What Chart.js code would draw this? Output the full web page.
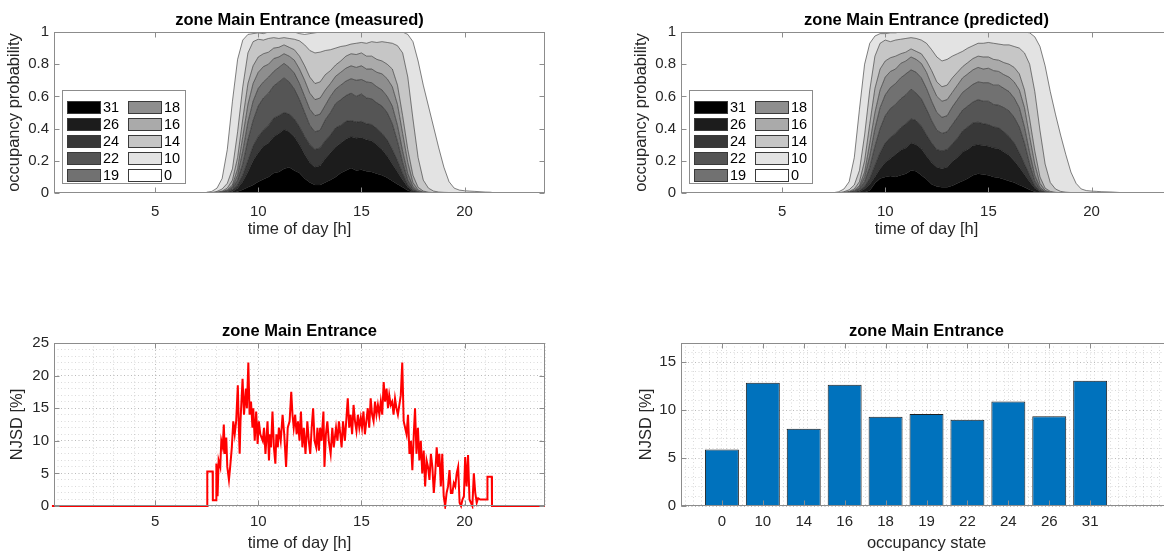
<!DOCTYPE html>
<html>
<head>
<meta charset="utf-8">
<title>zone Main Entrance</title>
<script src="https://cdn.jsdelivr.net/npm/chart.js@4.4.1/dist/chart.umd.min.js"></script>
<style>
  html, body { margin: 0; padding: 0; background: #fff; }
  body { width: 1164px; height: 554px; overflow: hidden; position: relative; }
  canvas { position: absolute; }
</style>
</head>
<body>
<canvas id="measuredChart" width="560" height="245" style="left:0px;top:0px"></canvas>
<canvas id="predictedChart" width="560" height="245" style="left:627px;top:0px"></canvas>
<canvas id="njsdTimeChart" width="560" height="243" style="left:0px;top:311px"></canvas>
<canvas id="njsdStateChart" width="560" height="243" style="left:627px;top:311px"></canvas>
<script>
// Occupancy state probabilities, zone Main Entrance

// time of day [h] for the stacked probability plots
const hours = [
  7.5, 7.75, 8, 8.25, 8.5, 8.75, 9, 9.25, 9.5, 9.75,
  10, 10.25, 10.5, 10.75, 11, 11.25, 11.5, 11.75, 12, 12.25,
  12.5, 12.75, 13, 13.25, 13.5, 13.75, 14, 14.25, 14.5, 14.75,
  15, 15.25, 15.5, 15.75, 16, 16.25, 16.5, 16.75, 17, 17.25,
  17.5, 17.75, 18, 18.25, 18.5, 18.75, 19, 19.25, 19.5, 19.75,
  20, 20.25, 20.5, 20.75, 21, 21.25, 21.5
];
const hourTicks = [5, 10, 15, 20];
const probTicks = [0, 0.2, 0.4, 0.6, 0.8, 1];

// legend / stacking order, bottom band first
const states = ['31', '26', '24', '22', '19', '18', '16', '14', '10', '0'];

// measured: cumulative probability (top edge of each band)
const meas31 = [
  0, 0, 0, 0, 0, 0, .01, .02, .035, .05,
  .07, .085, .1, .125, .13, .15, .16, .14, .125, .09,
  .065, .05, .05, .065, .08, .1, .125, .14, .155, .14,
  .145, .135, .13, .12, .11, .095, .075, .055, .035, .015,
  .005, 0, 0, 0, 0, 0, 0, 0, 0, 0,
  0, 0, 0, 0, 0, 0, 0
];
const meas26 = [
  0, 0, 0, 0, .002, .01, .03, .07, .13, .2,
  .25, .29, .31, .35, .37, .395, .38, .35, .3, .24,
  .19, .16, .17, .215, .25, .285, .31, .335, .35, .34,
  .345, .33, .325, .3, .27, .23, .18, .13, .08, .035,
  .01, .002, 0, 0, 0, 0, 0, 0, 0, 0,
  0, 0, 0, 0, 0, 0, 0
];
const meas24 = [
  0, 0, 0, .001, .005, .02, .05, .11, .2, .29,
  .35, .39, .42, .465, .48, .5, .49, .46, .41, .35,
  .3, .27, .28, .325, .36, .405, .42, .445, .45, .44,
  .445, .43, .425, .4, .37, .33, .27, .2, .12, .05,
  .015, .004, 0, 0, 0, 0, 0, 0, 0, 0,
  0, 0, 0, 0, 0, 0, 0
];
const meas22 = [
  0, 0, .001, .003, .01, .03, .08, .18, .33, .45,
  .54, .59, .62, .665, .69, .715, .69, .645, .58, .5,
  .42, .38, .39, .455, .5, .555, .58, .605, .62, .6,
  .615, .59, .585, .56, .54, .5, .43, .32, .19, .08,
  .025, .006, 0, 0, 0, 0, 0, 0, 0, 0,
  0, 0, 0, 0, 0, 0, 0
];
const meas19 = [
  0, 0, .002, .005, .015, .04, .11, .26, .44, .57,
  .65, .69, .72, .755, .78, .805, .78, .745, .68, .6,
  .52, .48, .49, .545, .6, .645, .67, .695, .71, .7,
  .705, .69, .685, .66, .64, .6, .54, .42, .26, .12,
  .04, .01, .003, 0, 0, 0, 0, 0, 0, 0,
  0, 0, 0, 0, 0, 0, 0
];
const meas18 = [
  0, 0, .003, .008, .02, .05, .15, .35, .55, .68,
  .75, .785, .8, .835, .845, .865, .85, .825, .77, .7,
  .62, .58, .59, .64, .68, .725, .75, .775, .79, .78,
  .79, .77, .77, .75, .74, .71, .66, .55, .37, .19,
  .065, .018, .006, .002, 0, 0, 0, 0, 0, 0,
  0, 0, 0, 0, 0, 0, 0
];
const meas16 = [
  0, .001, .005, .012, .03, .08, .22, .46, .68, .79,
  .845, .865, .875, .9, .905, .92, .905, .89, .85, .79,
  .72, .68, .69, .735, .76, .795, .82, .85, .865, .86,
  .87, .85, .85, .83, .82, .8, .77, .67, .48, .27,
  .11, .035, .012, .005, .002, 0, 0, 0, 0, 0,
  0, 0, 0, 0, 0, 0, 0
];
const meas14 = [
  0, .003, .01, .025, .06, .15, .38, .66, .87, .94,
  .955, .95, .96, .965, .96, .965, .96, .955, .945, .92,
  .885, .87, .875, .885, .89, .9, .91, .915, .925, .93,
  .935, .93, .94, .935, .94, .935, .93, .915, .87, .72,
  .46, .22, .08, .03, .012, .006, .004, .003, .002, .001,
  .001, 0, 0, 0, 0, 0, 0
];
const meas10 = [
  .005, .01, .03, .09, .27, .57, .83, .95, .985, .99,
  .995, .99, 1, 1, 1, 1, 1, 1, .99, .985,
  .99, .995, 1, 1, 1, 1, 1, 1, 1, 1,
  1, 1, 1, 1, 1, 1, 1, 1, 1, .985,
  .94, .82, .67, .54, .41, .28, .16, .07, .03, .018,
  .014, .012, .01, .008, .006, .005, 0
];

// predicted: cumulative probability (top edge of each band)
const pred31 = [
  0, 0, 0, 0, 0, 0, .005, .015, .06, .09,
  .1, .105, .1, .11, .12, .14, .135, .11, .085, .055,
  .04, .035, .035, .045, .06, .075, .09, .11, .12, .115,
  .11, .1, .095, .085, .075, .065, .05, .035, .02, .008,
  .002, 0, 0, 0, 0, 0, 0, 0, 0, 0,
  0, 0, 0, 0, 0, 0, 0
];
const pred26 = [
  0, 0, 0, 0, .002, .008, .025, .055, .1, .15,
  .19, .215, .24, .265, .28, .31, .3, .275, .23, .19,
  .16, .15, .16, .195, .22, .255, .27, .295, .3, .295,
  .29, .28, .275, .255, .235, .2, .16, .115, .07, .03,
  .009, .002, 0, 0, 0, 0, 0, 0, 0, 0,
  0, 0, 0, 0, 0, 0, 0
];
const pred24 = [
  0, 0, 0, .001, .004, .015, .04, .09, .17, .25,
  .31, .345, .37, .405, .43, .46, .45, .415, .36, .31,
  .27, .26, .27, .305, .34, .385, .41, .435, .44, .43,
  .425, .41, .405, .38, .35, .31, .25, .18, .11, .045,
  .013, .003, 0, 0, 0, 0, 0, 0, 0, 0,
  0, 0, 0, 0, 0, 0, 0
];
const pred22 = [
  0, 0, .001, .003, .008, .025, .07, .16, .29, .4,
  .48, .525, .55, .585, .61, .645, .62, .585, .52, .45,
  .39, .37, .38, .425, .47, .515, .54, .565, .58, .57,
  .57, .55, .545, .53, .51, .47, .41, .31, .18, .075,
  .022, .005, 0, 0, 0, 0, 0, 0, 0, 0,
  0, 0, 0, 0, 0, 0, 0
];
const pred19 = [
  0, 0, .001, .004, .012, .035, .1, .23, .4, .53,
  .61, .655, .68, .715, .74, .765, .75, .715, .65, .57,
  .5, .47, .48, .535, .58, .625, .65, .675, .69, .685,
  .685, .67, .67, .65, .63, .59, .53, .41, .25, .11,
  .035, .009, .002, 0, 0, 0, 0, 0, 0, 0,
  0, 0, 0, 0, 0, 0, 0
];
const pred18 = [
  0, 0, .002, .006, .018, .045, .13, .31, .5, .64,
  .72, .755, .77, .805, .82, .845, .83, .805, .75, .67,
  .6, .57, .58, .625, .67, .715, .74, .765, .78, .77,
  .775, .76, .755, .735, .72, .69, .64, .53, .35, .18,
  .06, .016, .005, .002, 0, 0, 0, 0, 0, 0,
  0, 0, 0, 0, 0, 0, 0
];
const pred16 = [
  0, .001, .004, .01, .025, .07, .2, .43, .65, .77,
  .82, .84, .85, .865, .875, .895, .88, .865, .82, .76,
  .69, .66, .67, .715, .75, .785, .81, .835, .85, .845,
  .845, .83, .825, .81, .8, .78, .74, .64, .46, .26,
  .1, .03, .01, .004, .001, 0, 0, 0, 0, 0,
  0, 0, 0, 0, 0, 0, 0
];
const pred14 = [
  0, .002, .008, .02, .05, .14, .36, .64, .85, .93,
  .95, .94, .95, .955, .96, .965, .96, .95, .93, .89,
  .845, .82, .83, .85, .865, .88, .9, .915, .93, .93,
  .935, .93, .925, .92, .92, .91, .9, .87, .8, .63,
  .39, .18, .065, .025, .01, .005, .003, .002, .001, 0,
  0, 0, 0, 0, 0, 0, 0
];
const pred10 = [
  .002, .008, .025, .07, .22, .52, .8, .93, .975, .99,
  .99, .995, .995, 1, 1, 1, 1, 1, 1, 1,
  1, 1, 1, 1, 1, 1, 1, 1, 1, 1,
  1, 1, 1, 1, 1, 1, 1, 1, .995, .97,
  .91, .79, .63, .49, .36, .24, .13, .06, .025, .015,
  .012, .01, .008, .007, .006, .004, .002
];

// NJSD over the day [%]
const njsdHours = [
  0, 7.53, 7.53, 7.79, 7.8, 7.96, 7.97, 8.03, 8.08, 8.16,
  8.21, 8.28, 8.33, 8.38, 8.45, 8.5, 8.58, 8.64, 8.72, 8.79,
  8.86, 8.93, 9.01, 9.06, 9.1, 9.14, 9.24, 9.31, 9.4, 9.45,
  9.52, 9.58, 9.65, 9.72, 9.76, 9.83, 9.9, 9.97, 10.03, 10.1,
  10.22, 10.28, 10.35, 10.4, 10.45, 10.52, 10.57, 10.62, 10.69, 10.76,
  10.83, 10.88, 10.95, 11.0, 11.09, 11.18, 11.26, 11.35, 11.43, 11.52,
  11.6, 11.66, 11.72, 11.79, 11.86, 11.93, 12.0, 12.07, 12.14, 12.21,
  12.29, 12.38, 12.45, 12.52, 12.59, 12.66, 12.73, 12.81, 12.87, 12.94,
  13.0, 13.07, 13.16, 13.21, 13.28, 13.35, 13.42, 13.51, 13.59, 13.66,
  13.77, 13.84, 13.91, 13.98, 14.04, 14.11, 14.2, 14.34, 14.41, 14.48,
  14.55, 14.62, 14.69, 14.76, 14.83, 14.9, 14.97, 15.03, 15.1, 15.17,
  15.24, 15.31, 15.38, 15.45, 15.52, 15.59, 15.66, 15.73, 15.8, 15.87,
  15.94, 16.01, 16.08, 16.15, 16.22, 16.29, 16.35, 16.42, 16.49, 16.56,
  16.63, 16.7, 16.77, 16.84, 16.91, 16.98, 17.05, 17.12, 17.19, 17.26,
  17.33, 17.4, 17.47, 17.54, 17.6, 17.67, 17.74, 17.81, 17.88, 17.95,
  18.02, 18.09, 18.16, 18.23, 18.3, 18.37, 18.44, 18.51, 18.58, 18.65,
  18.72, 18.78, 18.85, 18.92, 18.99, 19.06, 19.13, 19.2, 19.27, 19.34,
  19.41, 19.48, 19.55, 19.62, 19.69, 19.76, 19.83, 19.9, 19.97, 20.03,
  20.1, 20.17, 20.24, 20.31, 20.38, 20.45, 20.52, 20.59, 20.66, 20.76,
  21.1, 21.11, 21.32, 21.33, 23.9
];
const njsdValues = [
  0, 0, 5.3, 5.3, 0.9, 0.9, 6.5, 1.5, 7, 6,
  10, 9, 12.5, 8, 10.5, 6, 4, 6, 9, 13,
  11, 13, 18.5, 12, 8, 13, 19.5, 14, 18, 15,
  22, 14, 16, 12, 15, 10, 14.5, 9.5, 13, 11,
  10, 12, 8, 10.5, 13, 7, 11, 9, 14.5, 9,
  6.5, 11, 9, 12, 10, 14, 11, 6, 12, 13,
  17.5, 14, 12, 14, 11, 13, 10, 14.5, 9, 12,
  8, 13, 10, 8, 12, 15, 10, 9, 12, 8.5,
  12, 10, 14.5, 6, 11, 13, 10, 8, 12, 9,
  12, 10, 13, 11, 9, 13, 10, 16.5, 12, 14,
  11, 15.5, 13, 11.5, 14, 12, 13.5, 12, 14.5, 11,
  13, 15, 12, 16.5, 14, 13, 16, 14, 15.5, 14,
  16, 14, 19, 16, 18, 15, 17, 15.5, 16, 14,
  16.5, 15, 14, 15.5, 17, 22, 13, 12, 11, 14,
  8, 10, 5.5, 11, 15, 8, 12, 7, 10, 5,
  8.5, 3, 7, 6, 4, 8, 6, 2, 5, 9,
  6, 8, 3, 8, 1.5, 0, 2, 3, 5.5, 2,
  2, 3.5, 3, 5, 6, 0.5, 0, 1, 1.5, 7.5,
  3, 7.8, 1, 0.5, 0, 5, 2, 0.5, 1.2, 1,
  1, 4.5, 4.5, 0, 0
];
const njsdTicks = [0, 5, 10, 15, 20, 25];

// NJSD per occupancy state [%]
const occupancyStates = ['0', '10', '14', '16', '18', '19', '22', '24', '26', '31'];
const njsdPerState = [5.9, 12.85, 8.05, 12.65, 9.3, 9.6, 9.0, 10.9, 9.35, 13.05];
const stateNjsdTicks = [0, 5, 10, 15];

// styling
const FONT = '"Liberation Sans", Arial, Helvetica, sans-serif';
const TEXT = '#262626';
const BOX = '#8c8c8c';
const GRID = 'rgba(38,38,38,0.17)';
const bandGrays = ['#000000', '#1c1c1c', '#383838', '#555555', '#717171',
                   '#8e8e8e', '#aaaaaa', '#c6c6c6', '#e3e3e3', '#ffffff'];

Chart.defaults.font.family = FONT;
Chart.defaults.font.size = 15;
Chart.defaults.color = TEXT;
Chart.defaults.animation = false;
Chart.defaults.events = [];
Chart.defaults.plugins.legend.display = false;
Chart.defaults.plugins.tooltip.enabled = false;

// box, inward ticks, title and (optional) legend, MATLAB style
const matlabAxes = {
  id: 'matlabAxes',
  afterDraw(chart, args, opts) {
    const { ctx, chartArea: a, scales } = chart;
    const L = Math.round(a.left) + 0.5, R = Math.round(a.right) - 0.5;
    const T = Math.round(a.top) + 0.5, B = Math.round(a.bottom) - 0.5;
    ctx.save();
    ctx.strokeStyle = BOX;
    ctx.lineWidth = 1;
    ctx.beginPath();
    scales.x.ticks.forEach(t => {
      const px = Math.round(scales.x.getPixelForValue(t.value)) + 0.5;
      ctx.moveTo(px, B); ctx.lineTo(px, B - 5);
      ctx.moveTo(px, T); ctx.lineTo(px, T + 5);
    });
    scales.y.ticks.forEach(t => {
      const py = Math.round(scales.y.getPixelForValue(t.value)) + 0.5;
      ctx.moveTo(L, py); ctx.lineTo(L + 5, py);
      ctx.moveTo(R, py); ctx.lineTo(R - 5, py);
    });
    ctx.stroke();
    ctx.strokeRect(L, T, R - L, B - T);

    ctx.fillStyle = '#000';
    ctx.font = 'bold 16.5px ' + FONT;
    ctx.textAlign = 'center';
    ctx.textBaseline = 'middle';
    ctx.fillText(opts.title, (a.left + a.right) / 2, a.top - 12);

    if (opts.legend) {
      const bx = Math.round(a.left) + 8, by = Math.round(a.top) + 58, bw = 123, bh = 93;
      ctx.fillStyle = '#fff';
      ctx.fillRect(bx, by, bw, bh);
      ctx.strokeStyle = BOX;
      ctx.strokeRect(bx + 0.5, by + 0.5, bw, bh);
      ctx.font = '14.5px ' + FONT;
      ctx.textAlign = 'left';
      states.forEach((label, k) => {
        const col = Math.floor(k / 5), row = k % 5;
        const sx = bx + 5 + col * 61, sy = by + 11 + row * 17;
        ctx.fillStyle = bandGrays[k];
        ctx.fillRect(sx, sy, 33, 12);
        ctx.strokeStyle = '#3a3a3a';
        ctx.strokeRect(sx + 0.5, sy + 0.5, 33, 12);
        ctx.fillStyle = '#000';
        ctx.fillText(label, sx + 36, sy + 7);
      });
    }
    ctx.restore();
  }
};

function bandDatasets(layers) {
  return layers.map((vals, i) => ({
    label: states[i],
    data: hours.map((h, k) => ({ x: h, y: vals[k] })),
    backgroundColor: bandGrays[i],
    borderColor: 'rgba(20,20,20,0.75)',
    borderWidth: 0.7,
    pointRadius: 0,
    tension: 0,
    fill: i === 0 ? 'origin' : '-1',
    xAxisID: 'x',
    yAxisID: 'y'
  }));
}

function tickFont() { return { family: FONT, size: 15 }; }
function labelFont() { return { family: FONT, size: 16.5 }; }
const plainNumber = v => String(Math.round(v * 100) / 100);

function probChart(id, title, layers) {
  new Chart(document.getElementById(id), {
    type: 'line',
    data: { datasets: bandDatasets(layers) },
    options: {
      responsive: false,
      devicePixelRatio: 1,
      layout: { padding: { top: 32, right: 15, left: 0, bottom: 0 } },
      scales: {
        x: {
          type: 'linear', min: 0.1, max: 23.9,
          afterBuildTicks: s => { s.ticks = hourTicks.map(v => ({ value: v })); },
          afterFit: s => { s.height = 52; },
          grid: { display: false, drawTicks: false },
          border: { display: false },
          ticks: { padding: 10, color: TEXT, font: tickFont(), maxRotation: 0, callback: plainNumber },
          title: { display: true, text: 'time of day [h]', color: TEXT, font: labelFont(), padding: { top: 0, bottom: 6 } }
        },
        y: {
          type: 'linear', min: 0, max: 1,
          afterBuildTicks: s => { s.ticks = probTicks.map(v => ({ value: v })); },
          afterFit: s => { s.width = 54; },
          grid: { display: false, drawTicks: false },
          border: { display: false },
          ticks: { padding: 5, color: TEXT, font: tickFont(), callback: plainNumber },
          title: { display: true, text: 'occupancy probability', color: TEXT, font: labelFont(), padding: { top: 5, bottom: 0 } }
        }
      },
      plugins: { matlabAxes: { title: title, legend: true } }
    },
    plugins: [matlabAxes]
  });
}

probChart('measuredChart', 'zone Main Entrance (measured)',
  [meas31, meas26, meas24, meas22, meas19, meas18, meas16, meas14, meas10]);
probChart('predictedChart', 'zone Main Entrance (predicted)',
  [pred31, pred26, pred24, pred22, pred19, pred18, pred16, pred14, pred10]);

function dottedGrid() {
  return { color: GRID, lineWidth: 1, drawTicks: false };
}
const dottedBorder = { display: false, dash: [1, 2.5] };

// NJSD over time
new Chart(document.getElementById('njsdTimeChart'), {
  type: 'line',
  data: {
    datasets: [{
      label: 'NJSD',
      data: njsdHours.map((h, i) => ({ x: h, y: njsdValues[i] })),
      borderColor: '#ff0000',
      borderWidth: 2,
      pointRadius: 0,
      tension: 0,
      fill: false,
      clip: 3,
      xAxisID: 'x',
      yAxisID: 'y'
    }]
  },
  options: {
    responsive: false,
    devicePixelRatio: 1,
    layout: { padding: { top: 32, right: 15, left: 0, bottom: 0 } },
    scales: {
      x: {
        type: 'linear', min: 0.1, max: 23.9,
        afterBuildTicks: s => { s.ticks = hourTicks.map(v => ({ value: v })); },
        afterFit: s => { s.height = 48; },
        grid: dottedGrid(),
        border: dottedBorder,
        ticks: { padding: 7, color: TEXT, font: tickFont(), maxRotation: 0, callback: plainNumber },
        title: { display: true, text: 'time of day [h]', color: TEXT, font: labelFont(), padding: { top: 0, bottom: 1 } }
      },
      xMinor: {
        type: 'linear', position: 'bottom', min: 0.1, max: 23.9,
        afterFit: s => { s.height = 0; },
        grid: dottedGrid(),
        border: dottedBorder,
        ticks: { display: false, stepSize: 1 }
      },
      y: {
        type: 'linear', min: 0, max: 25,
        afterBuildTicks: s => { s.ticks = njsdTicks.map(v => ({ value: v })); },
        afterFit: s => { s.width = 54; },
        grid: dottedGrid(),
        border: dottedBorder,
        ticks: { padding: 5, color: TEXT, font: tickFont(), callback: plainNumber },
        title: { display: true, text: 'NJSD [%]', color: TEXT, font: labelFont(), padding: { top: 8, bottom: 0 } }
      },
      yMinor: {
        type: 'linear', position: 'left', min: 0, max: 25,
        afterFit: s => { s.width = 0; },
        grid: dottedGrid(),
        border: dottedBorder,
        ticks: { display: false, stepSize: 1 }
      }
    },
    plugins: { matlabAxes: { title: 'zone Main Entrance', legend: false } }
  },
  plugins: [matlabAxes]
});

// NJSD per occupancy state
new Chart(document.getElementById('njsdStateChart'), {
  type: 'bar',
  data: {
    datasets: [{
      label: 'NJSD',
      data: occupancyStates.map((s, i) => ({ x: i + 1, y: njsdPerState[i] })),
      backgroundColor: '#0072bd',
      borderColor: '#1e1e1e',
      borderWidth: 1,
      barPercentage: 0.83,
      categoryPercentage: 1,
      xAxisID: 'x',
      yAxisID: 'y'
    }]
  },
  options: {
    responsive: false,
    devicePixelRatio: 1,
    layout: { padding: { top: 32, right: 15, left: 0, bottom: 0 } },
    scales: {
      x: {
        type: 'linear', min: 0, max: 12, offset: false,
        afterBuildTicks: s => { s.ticks = occupancyStates.map((st, i) => ({ value: i + 1 })); },
        afterFit: s => { s.height = 48; },
        grid: Object.assign(dottedGrid(), { offset: false }),
        border: dottedBorder,
        ticks: {
          padding: 7, color: TEXT, font: tickFont(), maxRotation: 0,
          callback: v => occupancyStates[Math.round(v) - 1] || ''
        },
        title: { display: true, text: 'occupancy state', color: TEXT, font: labelFont(), padding: { top: 0, bottom: 1 } }
      },
      xMinor: {
        type: 'linear', position: 'bottom', min: 0, max: 12, offset: false,
        afterFit: s => { s.height = 0; },
        grid: dottedGrid(),
        border: dottedBorder,
        ticks: { display: false, stepSize: 0.2 }
      },
      y: {
        type: 'linear', min: 0, max: 17,
        afterBuildTicks: s => { s.ticks = stateNjsdTicks.map(v => ({ value: v })); },
        afterFit: s => { s.width = 54; },
        grid: dottedGrid(),
        border: dottedBorder,
        ticks: { padding: 5, color: TEXT, font: tickFont(), callback: plainNumber },
        title: { display: true, text: 'NJSD [%]', color: TEXT, font: labelFont(), padding: { top: 10, bottom: 0 } }
      },
      yMinor: {
        type: 'linear', position: 'left', min: 0, max: 17,
        afterFit: s => { s.width = 0; },
        grid: dottedGrid(),
        border: dottedBorder,
        ticks: { display: false, stepSize: 1 }
      }
    },
    plugins: { matlabAxes: { title: 'zone Main Entrance', legend: false } }
  },
  plugins: [matlabAxes]
});
</script>
</body>
</html>
